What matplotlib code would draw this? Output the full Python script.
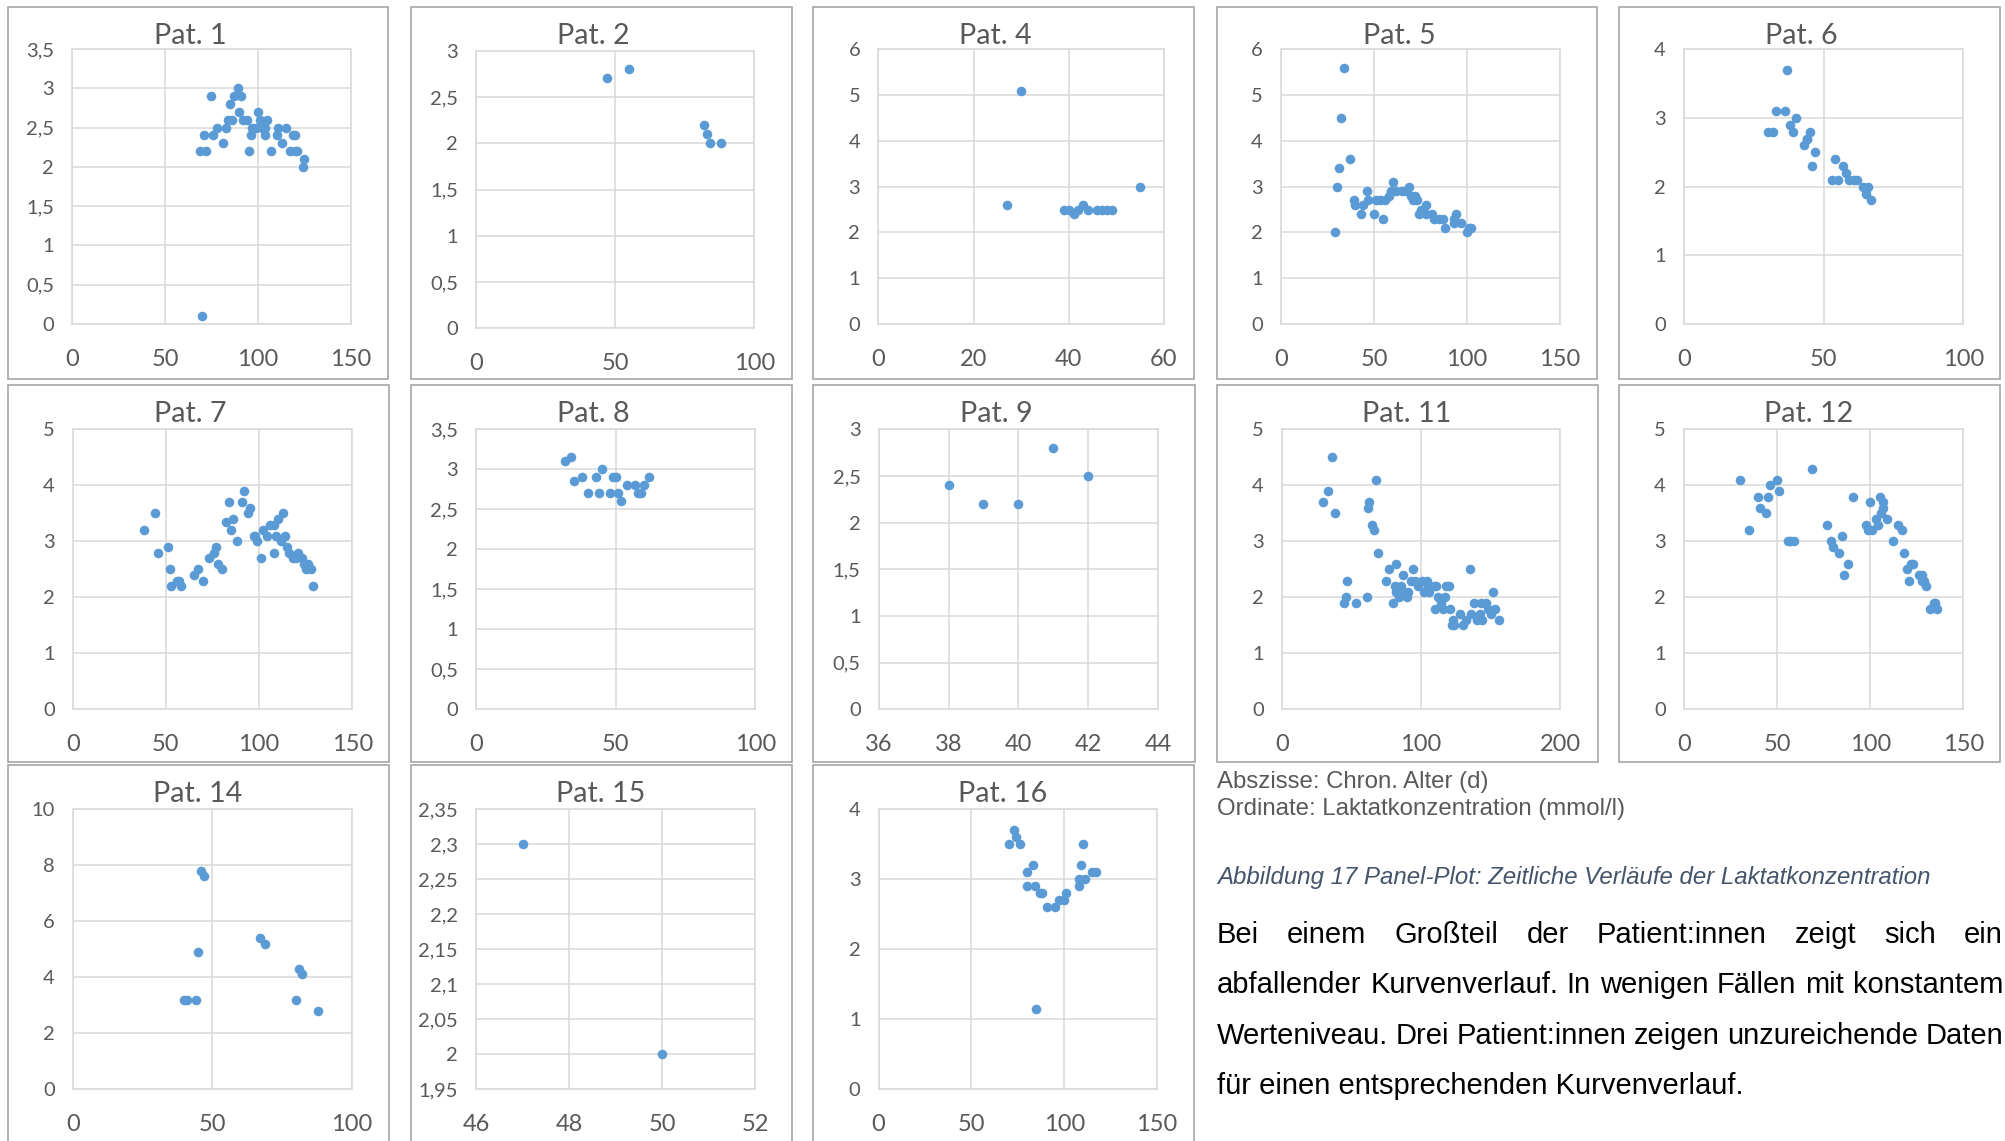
import numpy as np
import matplotlib
matplotlib.use("Agg")
import matplotlib.pyplot as plt
from matplotlib.patches import Rectangle

W, H = 2006, 1141

# Laktat je Patient: chron. Alter (d) und Laktatkonzentration (mmol/l)
pat1_tag = [70, 69, 72, 71, 75, 76, 78, 81, 83, 84, 86, 85, 87, 89, 91, 90, 92, 94, 95, 96,
            97, 99, 100, 101, 102, 104, 104, 105, 107, 110, 111, 113, 115, 117, 119, 120, 121, 120, 125, 124]
pat1_lak = [0.1, 2.2, 2.2, 2.4, 2.9, 2.4, 2.5, 2.3, 2.5, 2.6, 2.6, 2.8, 2.9, 3.0, 2.9, 2.7, 2.6, 2.6, 2.2, 2.4,
            2.5, 2.5, 2.7, 2.6, 2.5, 2.5, 2.4, 2.6, 2.2, 2.4, 2.5, 2.3, 2.5, 2.2, 2.4, 2.2, 2.2, 2.4, 2.1, 2.0]

pat2_tag = [47, 55, 82, 83, 84, 88]
pat2_lak = [2.7, 2.8, 2.2, 2.1, 2.0, 2.0]

pat4_tag = [27, 30, 39, 40, 41, 42, 43, 44, 46, 47, 48, 49, 55]
pat4_lak = [2.6, 5.1, 2.5, 2.5, 2.4, 2.5, 2.6, 2.5, 2.5, 2.5, 2.5, 2.5, 3.0]

pat5_tag = [34, 32, 37, 31, 30, 29, 39, 40, 43, 44, 46, 47, 50, 51, 53, 55, 56, 58, 60, 59,
            62, 65, 67, 69, 70, 72, 71, 73, 74, 75, 78, 78, 81, 82, 85, 88, 87, 93, 94, 93, 97, 100, 101, 102]
pat5_lak = [5.6, 4.5, 3.6, 3.4, 3.0, 2.0, 2.7, 2.6, 2.4, 2.6, 2.9, 2.7, 2.4, 2.7, 2.7, 2.3, 2.7, 2.8, 3.1, 2.9,
            2.9, 2.9, 2.9, 3.0, 2.8, 2.8, 2.7, 2.7, 2.4, 2.5, 2.6, 2.4, 2.4, 2.3, 2.3, 2.1, 2.3, 2.3, 2.4, 2.2, 2.2, 2.0, 2.1, 2.1]

pat6_tag = [37, 30, 32, 33, 36, 38, 39, 40, 43, 44, 45, 44, 46, 47, 53, 55, 54, 57, 58, 59, 61, 62, 64, 65, 66, 67]
pat6_lak = [3.7, 2.8, 2.8, 3.1, 3.1, 2.9, 2.8, 3.0, 2.6, 2.7, 2.8, 2.7, 2.3, 2.5, 2.1, 2.1, 2.4, 2.3, 2.2, 2.1, 2.1, 2.1, 2.0, 1.9, 2.0, 1.8]

pat7_tag = [38, 44, 46, 51, 52, 53, 56, 57, 58, 65, 67, 70, 73, 76, 77, 78, 80, 82, 84, 85,
            86, 88, 91, 92, 95, 94, 97, 99, 98, 101, 102, 104, 106, 108, 108, 109, 110, 113, 112, 114,
            115, 116, 118, 121, 120, 123, 124, 126, 125, 128, 129]
pat7_lak = [3.2, 3.5, 2.8, 2.9, 2.5, 2.2, 2.3, 2.3, 2.2, 2.4, 2.5, 2.3, 2.7, 2.8, 2.9, 2.6, 2.5, 3.35, 3.7, 3.2,
            3.4, 3.0, 3.7, 3.9, 3.6, 3.5, 3.1, 3.0, 3.1, 2.7, 3.2, 3.1, 3.3, 3.3, 2.8, 3.1, 3.4, 3.5, 3.0, 3.1,
            2.9, 2.8, 2.7, 2.8, 2.7, 2.7, 2.6, 2.6, 2.5, 2.5, 2.2]

pat8_tag = [32, 34, 35, 38, 40, 43, 44, 45, 48, 49, 50, 51, 52, 54, 57, 58, 59, 60, 62]
pat8_lak = [3.1, 3.15, 2.85, 2.9, 2.7, 2.9, 2.7, 3.0, 2.7, 2.9, 2.9, 2.7, 2.6, 2.8, 2.8, 2.7, 2.7, 2.8, 2.9]

pat9_tag = [38, 39, 40, 41, 42]
pat9_lak = [2.4, 2.2, 2.2, 2.8, 2.5]

pat11_tag = [36, 33, 30, 38, 47, 46, 45, 53, 61, 68, 63, 62, 65, 66, 69, 75, 77, 82, 80, 81,
             82, 84, 87, 86, 88, 90, 91, 94, 93, 96, 98, 101, 102, 104, 105, 106, 109, 111, 110, 112,
             114, 116, 117, 118, 120, 121, 122, 124, 123, 128, 130, 132, 135, 136, 138, 140, 142, 143, 144, 147,
             148, 150, 152, 153, 156]
pat11_lak = [4.5, 3.9, 3.7, 3.5, 2.3, 2.0, 1.9, 1.9, 2.0, 4.1, 3.7, 3.6, 3.3, 3.2, 2.8, 2.3, 2.5, 2.6, 1.9, 2.2,
             2.1, 2.0, 2.4, 2.2, 2.1, 2.0, 2.1, 2.5, 2.3, 2.3, 2.2, 2.3, 2.1, 2.3, 2.2, 2.1, 2.2, 2.2, 1.8, 2.0,
             1.9, 1.8, 2.0, 2.2, 2.2, 1.8, 1.5, 1.5, 1.6, 1.7, 1.5, 1.6, 2.5, 1.7, 1.9, 1.6, 1.7, 1.9, 1.6, 1.9,
             1.8, 1.7, 2.1, 1.8, 1.6]

pat12_tag = [30, 35, 40, 41, 44, 45, 46, 50, 51, 56, 57, 59, 69, 77, 79, 80, 83, 85, 86, 88,
             91, 98, 100, 99, 101, 103, 104, 105, 107, 107, 106, 109, 112, 115, 117, 118, 120, 121, 122, 123,
             126, 128, 128, 129, 130, 132, 134, 135, 136]
pat12_lak = [4.1, 3.2, 3.8, 3.6, 3.5, 3.8, 4.0, 4.1, 3.9, 3.0, 3.0, 3.0, 4.3, 3.3, 3.0, 2.9, 2.8, 3.1, 2.4, 2.6,
             3.8, 3.3, 3.7, 3.2, 3.2, 3.4, 3.3, 3.8, 3.7, 3.6, 3.5, 3.4, 3.0, 3.3, 3.2, 2.8, 2.5, 2.3, 2.6, 2.6,
             2.4, 2.4, 2.3, 2.3, 2.2, 1.8, 1.9, 1.9, 1.8]

pat14_tag = [46, 47, 45, 40, 41, 44, 67, 69, 81, 82, 80, 88]
pat14_lak = [7.8, 7.6, 4.9, 3.2, 3.2, 3.2, 5.4, 5.2, 4.3, 4.1, 3.2, 2.8]

pat15_tag = [47, 50]
pat15_lak = [2.3, 2.0]

pat16_tag = [73, 70, 74, 76, 80, 83, 80, 84, 85, 87, 88, 91, 95, 97, 100, 101, 108, 108, 109, 110, 111, 115, 117]
pat16_lak = [3.7, 3.5, 3.6, 3.5, 3.1, 3.2, 2.9, 2.9, 1.15, 2.8, 2.8, 2.6, 2.6, 2.7, 2.7, 2.8, 2.9, 3.0, 3.2, 3.5, 3.0, 3.1, 3.1]

# Titel, Daten, x-Achse (min, max, Schritt), y-Achse (min, max, Schritt)
panels = [
    ("Pat. 1", pat1_tag, pat1_lak, (0, 150, 50), (0, 3.5, 0.5)),
    ("Pat. 2", pat2_tag, pat2_lak, (0, 100, 50), (0, 3, 0.5)),
    ("Pat. 4", pat4_tag, pat4_lak, (0, 60, 20), (0, 6, 1)),
    ("Pat. 5", pat5_tag, pat5_lak, (0, 150, 50), (0, 6, 1)),
    ("Pat. 6", pat6_tag, pat6_lak, (0, 100, 50), (0, 4, 1)),
    ("Pat. 7", pat7_tag, pat7_lak, (0, 150, 50), (0, 5, 1)),
    ("Pat. 8", pat8_tag, pat8_lak, (0, 100, 50), (0, 3.5, 0.5)),
    ("Pat. 9", pat9_tag, pat9_lak, (36, 44, 2), (0, 3, 0.5)),
    ("Pat. 11", pat11_tag, pat11_lak, (0, 200, 100), (0, 5, 1)),
    ("Pat. 12", pat12_tag, pat12_lak, (0, 150, 50), (0, 5, 1)),
    ("Pat. 14", pat14_tag, pat14_lak, (0, 100, 50), (0, 10, 2)),
    ("Pat. 15", pat15_tag, pat15_lak, (46, 52, 2), (1.95, 2.35, 0.05)),
    ("Pat. 16", pat16_tag, pat16_lak, (0, 150, 50), (0, 4, 1)),
]

# Rahmen der Einzeldiagramme und Zeichenflaechen in Pixeln (links, oben, rechts, unten)
frames = [
    (8, 7, 388, 379), (411, 7, 792, 379), (813, 7, 1194, 379), (1217, 7, 1597, 379), (1619, 7, 2000, 379),
    (8, 385, 389, 762), (411, 385, 792, 762), (813, 385, 1195, 762), (1217, 385, 1598, 762), (1619, 385, 2000, 762),
    (8, 765, 389, 1160), (411, 765, 792, 1160), (813, 765, 1194, 1160),
]
plot_areas = [
    (72, 49, 351, 324), (476, 50.7, 754.3, 328.3), (878.3, 49.3, 1164, 324), (1281, 49.3, 1560, 324), (1684, 49.3, 1963.3, 324),
    (72.7, 429.3, 352.3, 709.3), (476, 429.3, 755.3, 709.3), (878.7, 429.3, 1158, 709.3), (1281.7, 429.3, 1560.3, 709.3), (1684, 429.3, 1963.3, 709.3),
    (72.7, 809.3, 352, 1089.3), (476, 809.3, 755.3, 1089.3), (878.6, 809.3, 1157, 1089.3),
]

BLUE = "#5B9BD5"
GRID = "#D9D9D9"
TXT = "#595959"
CHART_FONT = ["Lato", "DejaVu Sans"]
DOC_FONT = ["Liberation Sans", "DejaVu Sans"]


def fx(px):
    return px / W


def fy(py):
    return 1 - py / H


def de_num(v, pos=None):
    s = f"{v:.2f}".rstrip("0").rstrip(".")
    return s.replace(".", ",")


fig = plt.figure(figsize=(W / 100, H / 100), dpi=100)
fig.patch.set_facecolor("white")

for (title, xs, ys, xax, yax), fr, pa in zip(panels, frames, plot_areas):
    l, t, r, b = fr
    fig.patches.append(Rectangle((fx(l), fy(b)), fx(r - l), (b - t) / H, transform=fig.transFigure,
                                 fill=False, edgecolor="#A6A6A6", linewidth=1.2, clip_on=False))
    pl, pt, pr, pb = pa
    ax = fig.add_axes([fx(pl), fy(pb), fx(pr - pl), (pb - pt) / H])
    ax.scatter(xs, ys, s=48, color=BLUE, linewidths=0, zorder=3, clip_on=False)

    x0, x1, xs_ = xax
    y0, y1, ys_ = yax
    ax.set_xlim(x0, x1)
    ax.set_ylim(y0, y1)
    ax.set_xticks(np.linspace(x0, x1, int(round((x1 - x0) / xs_)) + 1))
    ax.set_yticks(np.linspace(y0, y1, int(round((y1 - y0) / ys_)) + 1))
    ax.xaxis.set_major_formatter(de_num)
    ax.yaxis.set_major_formatter(de_num)
    ax.tick_params(axis="x", length=0, pad=18, labelsize=17, labelcolor=TXT)
    ax.tick_params(axis="y", length=0, pad=13, labelsize=14.5, labelcolor=TXT)
    for lab in ax.get_xticklabels() + ax.get_yticklabels():
        lab.set_family(CHART_FONT)
    ax.grid(True, color=GRID, linewidth=1.1)
    ax.set_axisbelow(True)
    for sp in ax.spines.values():
        sp.set_color(GRID)
        sp.set_linewidth(1.1)

    shift = -8 if len(title) < 7 else -1
    fig.text(fx((l + r) / 2 + shift), fy(t + 36.5), title, ha="center", va="baseline",
             fontsize=20.6, color=TXT, family=CHART_FONT)

# Achsenbeschriftung, Bildunterschrift und Fliesstext rechts unten
TX_L, TX_R = 1217, 2003
fig.text(fx(TX_L), fy(788), "Abszisse: Chron. Alter (d)", ha="left", va="baseline",
         fontsize=17.3, color=TXT, family=DOC_FONT)
fig.text(fx(TX_L), fy(815), "Ordinate: Laktatkonzentration (mmol/l)", ha="left", va="baseline",
         fontsize=17.3, color=TXT, family=DOC_FONT)
fig.text(fx(TX_L), fy(884), "Abbildung 17 Panel-Plot: Zeitliche Verläufe der Laktatkonzentration",
         ha="left", va="baseline", fontsize=17.3, style="italic", color="#44546A", family=DOC_FONT)

para_lines = [
    "Bei einem Großteil der Patient:innen zeigt sich ein",
    "abfallender Kurvenverlauf. In wenigen Fällen mit konstantem",
    "Werteniveau. Drei Patient:innen zeigen unzureichende Daten",
    "für einen entsprechenden Kurvenverlauf.",
]
para_base = [943, 993, 1044, 1094]

renderer = fig.canvas.get_renderer()
for i, (line, base) in enumerate(zip(para_lines, para_base)):
    if i == len(para_lines) - 1:
        fig.text(fx(TX_L), fy(base), line, ha="left", va="baseline", fontsize=21,
                 color="black", family=DOC_FONT)
        continue
    # Blocksatz: Woerter einzeln setzen, Zwischenraeume gleichmaessig verteilen
    words = line.split()
    objs = [fig.text(0, fy(base), w, ha="left", va="baseline", fontsize=21,
                     color="black", family=DOC_FONT) for w in words]
    widths = [o.get_window_extent(renderer).width for o in objs]
    gap = (TX_R - TX_L - sum(widths)) / (len(words) - 1)
    xpos = TX_L
    for o, w in zip(objs, widths):
        o.set_x(fx(xpos))
        xpos += w + gap

fig.savefig("out.png", dpi=100)
